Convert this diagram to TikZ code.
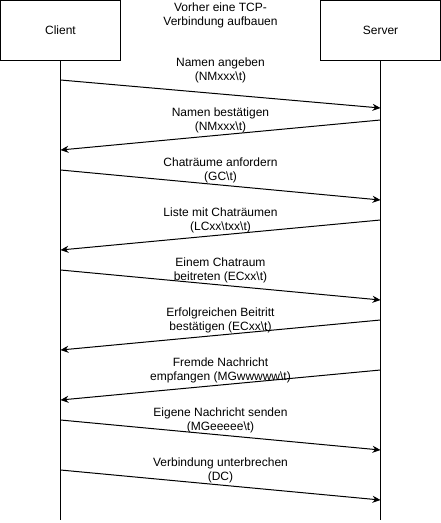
\documentclass[tikz,border=0pt]{standalone}
\usepackage{fontspec}
\setmainfont{Liberation Sans}
\usetikzlibrary{positioning}
\usetikzlibrary{arrows.meta}

\begin{document}
\begin{tikzpicture}[x=1pt, y=-1pt, line width=1pt,
    every node/.style={font=\fontsize{12}{14}\selectfont, align=center, inner sep=0pt},
    box/.style={draw, minimum width=120pt, minimum height=60pt},
    msg/.style={-{Stealth[length=8pt, width=7pt]}}]
  \useasboundingbox (0,0) rectangle (441,523);

  % Knoten
  \node[box] (client) at (60.5,30.5) {Client};
  \node[box] (server) at (380.5,30.5) {Server};
  \node (tcp) at (220.5,15) {Vorher eine TCP-\\Verbindung aufbauen};

  % Lebenslinien
  \coordinate (cend) at (60.5,520);
  \coordinate (send) at (380.5,520);
  \draw (client.south) -- (cend);
  \draw (server.south) -- (send);

  % Endpunkte
  \coordinate (c1) at (60.5,80);   \coordinate (s1) at (380.5,108);
  \coordinate (s2) at (380.5,120); \coordinate (c2) at (60.5,150);
  \coordinate (c3) at (60.5,170);  \coordinate (s3) at (380.5,200);
  \coordinate (s4) at (380.5,220); \coordinate (c4) at (60.5,250);
  \coordinate (c5) at (60.5,270);  \coordinate (s5) at (380.5,300);
  \coordinate (s6) at (380.5,320); \coordinate (c6) at (60.5,350);
  \coordinate (s7) at (380.5,370); \coordinate (c7) at (60.5,400);
  \coordinate (c8) at (60.5,420);  \coordinate (s8) at (380.5,450);
  \coordinate (c9) at (60.5,470);  \coordinate (s9) at (380.5,500);

  % Nachrichten
  \draw[msg] (c1) -- (s1);
  \draw[msg] (s2) -- (c2);
  \draw[msg] (c3) -- (s3);
  \draw[msg] (s4) -- (c4);
  \draw[msg] (c5) -- (s5);
  \draw[msg] (s6) -- (c6);
  \draw[msg] (s7) -- (c7);
  \draw[msg] (c8) -- (s8);
  \draw[msg] (c9) -- (s9);

  % Beschriftungen
  \node (l1) at (220.5,70) {Namen angeben\\(NMxxx\textbackslash t)};
  \node (l2) at (220.5,120) {Namen bestätigen\\(NMxxx\textbackslash t)};
  \node (l3) at (220.5,170) {Chaträume anfordern\\(GC\textbackslash t)};
  \node (l4) at (220.5,220) {Liste mit Chaträumen\\(LCxx\textbackslash txx\textbackslash t)};
  \node (l5) at (220.5,270) {Einem Chatraum\\beitreten (ECxx\textbackslash t)};
  \node (l6) at (220.5,320) {Erfolgreichen Beitritt\\bestätigen (ECxx\textbackslash t)};
  \node (l7) at (220.5,370) {Fremde Nachricht\\empfangen (MGwwwww\textbackslash t)};
  \node (l8) at (220.5,420) {Eigene Nachricht senden\\(MGeeeee\textbackslash t)};
  \node (l9) at (220.5,470) {Verbindung unterbrechen\\(DC)};
\end{tikzpicture}
\end{document}
